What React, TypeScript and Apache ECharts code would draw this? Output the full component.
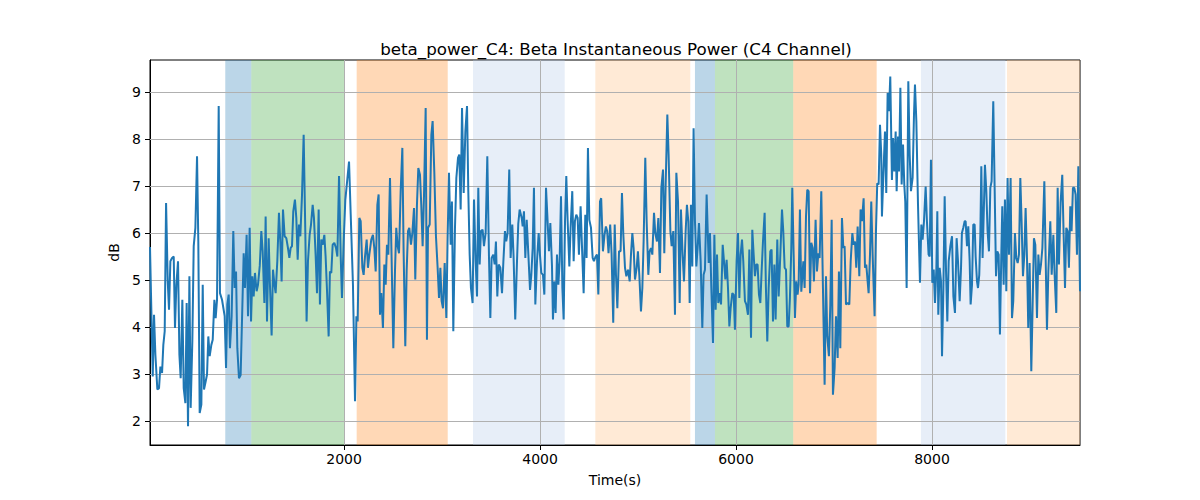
import { useEffect, useRef } from 'react'
import * as echarts from 'echarts'

// beta power samples: [time (s), dB]
const betaPower: [number, number][] = [
  [20, 5.7], [48, 2.95], [61, 4.26], [75, 3.41], [95, 2.67], [112, 2.7], [126, 3.16], [143, 3.02], [156, 3.62], [170, 3.91],
  [184, 6.64], [201, 4.97], [214, 4.37], [228, 5.4], [245, 5.47], [262, 5.5], [275, 3.98], [289, 4.9], [306, 5.4], [320, 3.41],
  [333, 2.91], [350, 4.58], [364, 2.7], [381, 2.38], [394, 4.51], [408, 1.89], [422, 5.08], [435, 2.28], [452, 3.7], [466, 5.72],
  [483, 6.11], [500, 7.63], [513, 5.82], [527, 2.17], [544, 2.35], [558, 4.9], [571, 2.67], [588, 2.84], [602, 2.99], [615, 3.8],
  [629, 3.38], [646, 3.62], [660, 3.73], [677, 4.58], [690, 4.19], [704, 4.58], [721, 8.7], [734, 4.72], [755, 4.58], [782, 4.23],
  [796, 3.13], [809, 4.48], [823, 4.69], [836, 3.55], [853, 4.23], [870, 6.04], [884, 4.83], [898, 5.18], [911, 3.55], [928, 2.91],
  [945, 2.98], [976, 5.57], [989, 4.83], [1006, 5.96], [1020, 4.23], [1037, 6.11], [1051, 4.12], [1064, 5.08], [1078, 4.65], [1091, 5.15],
  [1108, 4.76], [1122, 4.9], [1140, 5.3], [1156, 6.04], [1170, 5.6], [1187, 4.51], [1200, 6.35], [1214, 4.12], [1231, 5.89], [1244, 4.9],
  [1261, 3.82], [1275, 5.22], [1290, 4.9], [1302, 4.72], [1319, 5.4], [1336, 6.43], [1350, 5.8], [1363, 4.97], [1377, 6.5], [1394, 5.93],
  [1411, 5.89], [1428, 5.68], [1442, 5.47], [1455, 5.68], [1469, 5.72], [1482, 6.46], [1499, 6.71], [1513, 6.32], [1527, 5.43], [1540, 6.18],
  [1554, 5.93], [1571, 6.8], [1588, 8.09], [1605, 6.0], [1618, 4.12], [1632, 5.4], [1649, 5.96], [1663, 6.18], [1680, 6.6], [1693, 6.32],
  [1710, 5.54], [1724, 4.72], [1741, 6.5], [1754, 4.48], [1768, 5.86], [1782, 5.75], [1799, 5.96], [1812, 5.5], [1826, 4.79], [1843, 3.8],
  [1856, 5.18], [1870, 5.15], [1884, 5.75], [1901, 5.79], [1918, 5.68], [1932, 5.5], [1949, 7.21], [1966, 5.5], [1979, 4.62], [1996, 5.8],
  [2013, 6.7], [2051, 7.52], [2068, 6.4], [2091, 4.9], [2112, 2.42], [2126, 4.23], [2139, 4.12], [2156, 6.32], [2170, 6.25], [2187, 5.26],
  [2200, 5.11], [2214, 5.5], [2231, 5.86], [2244, 5.26], [2258, 5.54], [2278, 5.86], [2295, 5.96], [2309, 5.68], [2323, 5.18], [2340, 6.6],
  [2353, 6.82], [2367, 4.26], [2380, 4.72], [2397, 3.98], [2411, 5.33], [2425, 4.9], [2438, 5.75], [2452, 5.54], [2469, 7.17], [2486, 5.4],
  [2503, 3.55], [2520, 5.2], [2533, 6.11], [2547, 5.72], [2561, 5.57], [2578, 6.9], [2595, 7.81], [2608, 5.6], [2625, 3.59], [2639, 5.2],
  [2653, 6.04], [2666, 6.11], [2683, 5.75], [2697, 6.0], [2714, 6.53], [2727, 5.01], [2744, 6.6], [2758, 7.38], [2775, 7.24], [2788, 6.6],
  [2802, 5.72], [2816, 6.8], [2833, 8.66], [2846, 3.73], [2857, 6.11], [2874, 6.18], [2891, 8.09], [2904, 8.38], [2921, 7.31], [2938, 5.93],
  [2955, 5.26], [2969, 4.62], [2983, 5.26], [2996, 4.55], [3010, 4.4], [3027, 5.36], [3044, 4.19], [3057, 5.9], [3071, 7.28], [3088, 5.75],
  [3101, 6.67], [3115, 3.91], [3132, 6.1], [3146, 7.17], [3163, 7.6], [3176, 7.67], [3190, 6.5], [3204, 8.66], [3221, 6.85], [3238, 8.16],
  [3255, 8.7], [3268, 6.9], [3282, 5.54], [3295, 4.83], [3312, 4.51], [3326, 6.71], [3343, 5.4], [3357, 4.65], [3370, 6.96], [3384, 5.33],
  [3397, 6.04], [3414, 6.07], [3428, 5.72], [3445, 6.0], [3462, 7.63], [3479, 5.5], [3493, 4.19], [3506, 5.47], [3523, 5.54], [3537, 5.33],
  [3550, 5.82], [3564, 4.65], [3578, 5.33], [3595, 5.26], [3612, 4.72], [3626, 5.4], [3642, 6.04], [3655, 5.82], [3669, 6.0], [3686, 7.35],
  [3700, 5.47], [3717, 6.18], [3730, 5.5], [3747, 4.16], [3765, 5.4], [3778, 6.2], [3792, 6.5], [3813, 6.32], [3823, 6.14], [3836, 6.46],
  [3850, 5.47], [3864, 6.28], [3881, 5.54], [3898, 4.79], [3911, 5.11], [3925, 5.68], [3938, 6.96], [3952, 4.48], [3969, 5.4], [3986, 6.0],
  [3999, 5.54], [4013, 5.15], [4030, 5.11], [4044, 4.69], [4061, 6.96], [4074, 6.4], [4091, 5.61], [4105, 6.21], [4122, 5.3], [4132, 4.16],
  [4145, 4.97], [4159, 4.3], [4173, 5.54], [4187, 4.9], [4200, 5.4], [4214, 6.78], [4228, 4.83], [4241, 4.16], [4255, 6.25], [4268, 7.21],
  [4282, 6.25], [4299, 5.29], [4312, 6.11], [4329, 6.89], [4343, 5.4], [4356, 6.25], [4370, 6.39], [4384, 6.32], [4397, 5.54], [4414, 6.57],
  [4431, 5.54], [4445, 4.72], [4462, 6.39], [4475, 5.47], [4489, 7.81], [4503, 6.28], [4520, 6.11], [4537, 5.47], [4550, 5.4], [4567, 5.5],
  [4581, 5.54], [4595, 4.69], [4612, 6.67], [4624, 6.74], [4642, 5.61], [4658, 5.96], [4672, 6.14], [4685, 6.04], [4699, 5.57], [4716, 6.18],
  [4730, 5.57], [4747, 4.09], [4762, 6.18], [4775, 5.11], [4789, 4.4], [4806, 5.61], [4822, 5.61], [4836, 6.85], [4850, 5.96], [4867, 5.26],
  [4881, 5.08], [4898, 5.22], [4915, 4.97], [4928, 5.54], [4942, 6.0], [4955, 5.68], [4969, 5.01], [4986, 5.26], [4999, 5.61], [5013, 5.11],
  [5030, 4.33], [5044, 4.83], [5057, 5.82], [5074, 7.6], [5088, 6.25], [5105, 5.11], [5118, 5.61], [5132, 5.68], [5146, 5.54], [5163, 6.43],
  [5176, 6.0], [5193, 5.82], [5207, 6.32], [5224, 5.15], [5238, 6.96], [5255, 7.35], [5268, 5.57], [5282, 7.03], [5299, 8.52], [5312, 7.67],
  [5330, 6.04], [5343, 5.72], [5360, 6.04], [5377, 4.26], [5391, 7.28], [5408, 6.67], [5425, 4.51], [5438, 6.5], [5455, 5.54], [5469, 4.97],
  [5486, 6.04], [5499, 6.6], [5513, 6.25], [5527, 4.51], [5540, 6.6], [5554, 5.29], [5567, 8.23], [5581, 6.25], [5595, 5.29], [5608, 5.68],
  [5622, 6.21], [5639, 5.4], [5656, 3.98], [5669, 5.11], [5683, 5.22], [5700, 6.82], [5721, 5.36], [5734, 6.0], [5748, 4.83], [5765, 3.66],
  [5779, 5.96], [5792, 4.37], [5806, 5.54], [5819, 4.51], [5833, 4.72], [5847, 4.48], [5864, 5.75], [5877, 5.4], [5891, 5.01], [5904, 5.43],
  [5918, 4.83], [5932, 4.01], [5945, 4.4], [5962, 4.72], [5976, 4.69], [5989, 3.94], [6006, 5.4], [6020, 6.0], [6034, 4.62], [6047, 5.54],
  [6061, 5.86], [6074, 5.4], [6091, 4.55], [6105, 4.48], [6122, 4.26], [6136, 5.65], [6153, 3.77], [6166, 6.07], [6180, 5.54], [6193, 5.08],
  [6207, 5.33], [6220, 5.33], [6234, 4.69], [6248, 4.51], [6261, 5.18], [6275, 5.82], [6292, 6.43], [6305, 4.83], [6319, 3.69], [6333, 4.83],
  [6350, 5.61], [6363, 5.65], [6377, 4.12], [6391, 5.33], [6404, 4.16], [6421, 5.86], [6435, 4.65], [6452, 5.54], [6469, 6.5], [6482, 6.04],
  [6496, 5.26], [6510, 5.22], [6523, 4.01], [6537, 4.01], [6550, 4.62], [6564, 5.68], [6574, 6.96], [6588, 5.54], [6601, 4.19], [6615, 4.97],
  [6628, 4.69], [6639, 4.9], [6652, 6.5], [6666, 4.75], [6687, 5.4], [6700, 4.83], [6714, 6.35], [6727, 6.92], [6741, 6.89], [6755, 4.72],
  [6768, 5.79], [6782, 5.68], [6795, 4.97], [6812, 6.28], [6826, 5.18], [6840, 5.57], [6853, 5.47], [6870, 6.89], [6887, 4.83], [6904, 2.77],
  [6918, 5.08], [6931, 3.8], [6948, 3.38], [6962, 4.48], [6976, 6.28], [6989, 2.56], [7006, 3.13], [7020, 4.23], [7037, 3.34], [7050, 5.18],
  [7064, 3.55], [7081, 6.32], [7095, 5.68], [7108, 5.72], [7122, 4.48], [7139, 4.51], [7156, 4.48], [7170, 5.4], [7187, 6.0], [7200, 5.75],
  [7214, 5.82], [7227, 5.26], [7241, 6.14], [7258, 5.08], [7271, 6.5], [7285, 6.25], [7302, 6.74], [7316, 5.26], [7329, 5.33], [7343, 4.97],
  [7353, 4.72], [7367, 5.54], [7380, 6.67], [7394, 5.54], [7414, 4.23], [7428, 6.04], [7441, 7.06], [7455, 7.03], [7469, 8.3], [7482, 7.67],
  [7489, 6.35], [7506, 7.38], [7520, 8.16], [7533, 6.85], [7547, 8.98], [7561, 8.59], [7574, 9.33], [7591, 7.13], [7602, 8.02], [7615, 7.31],
  [7629, 8.16], [7639, 6.89], [7653, 8.05], [7663, 7.31], [7677, 9.09], [7690, 7.03], [7704, 7.88], [7717, 7.03], [7727, 6.67], [7741, 4.83],
  [7758, 9.23], [7772, 7.67], [7785, 6.89], [7802, 7.17], [7816, 8.52], [7826, 9.16], [7840, 8.38], [7857, 6.6], [7877, 4.94], [7891, 6.18],
  [7904, 5.86], [7918, 6.25], [7935, 6.99], [7948, 6.25], [7965, 5.54], [7976, 5.5], [7989, 7.56], [8003, 4.94], [8017, 5.22], [8030, 4.51],
  [8044, 5.22], [8054, 6.46], [8064, 4.26], [8078, 5.26], [8092, 4.97], [8102, 3.38], [8116, 4.83], [8129, 6.78], [8143, 5.18], [8156, 4.12],
  [8170, 5.4], [8187, 5.72], [8204, 5.93], [8218, 4.65], [8234, 4.3], [8251, 5.89], [8265, 5.4], [8282, 4.55], [8296, 5.26], [8305, 6.0],
  [8319, 6.11], [8333, 6.25], [8343, 6.25], [8357, 5.72], [8370, 6.14], [8384, 5.4], [8394, 4.48], [8408, 4.9], [8421, 6.18], [8435, 6.18],
  [8445, 5.5], [8459, 4.97], [8469, 4.83], [8482, 5.11], [8493, 5.96], [8503, 7.42], [8516, 5.47], [8530, 6.6], [8540, 7.45], [8554, 6.89],
  [8567, 6.04], [8581, 5.61], [8595, 6.96], [8608, 7.1], [8625, 8.8], [8639, 6.96], [8653, 5.08], [8666, 5.61], [8680, 5.54], [8693, 3.84],
  [8707, 5.54], [8717, 6.57], [8731, 4.9], [8744, 6.71], [8758, 4.76], [8771, 7.17], [8785, 5.54], [8802, 7.17], [8816, 4.19], [8829, 4.55],
  [8846, 6.0], [8860, 5.47], [8874, 5.36], [8887, 5.54], [8901, 7.17], [8914, 6.25], [8928, 5.08], [8942, 5.54], [8955, 6.53], [8969, 5.47],
  [8982, 3.98], [8996, 5.36], [9013, 3.06], [9026, 4.4], [9040, 5.89], [9054, 5.75], [9071, 4.19], [9085, 5.54], [9098, 5.11], [9112, 5.33],
  [9126, 5.68], [9146, 7.1], [9160, 5.4], [9173, 3.94], [9187, 5.18], [9207, 6.25], [9221, 5.11], [9238, 5.96], [9251, 5.11], [9268, 4.3],
  [9282, 6.96], [9295, 5.33], [9312, 6.64], [9329, 7.24], [9343, 5.96], [9357, 4.83], [9370, 6.11], [9384, 6.04], [9397, 5.26], [9411, 6.57],
  [9424, 6.04], [9438, 6.96], [9452, 6.96], [9465, 6.82], [9479, 5.54], [9493, 7.42], [9510, 4.76],
]

// shaded segments: [start, end, colour]
const spans: [number, number, string][] = [
  [788, 1054, 'rgba(31,119,180,0.3)'],
  [1054, 2002, 'rgba(44,160,44,0.3)'],
  [2129, 3058, 'rgba(255,127,14,0.3)'],
  [3316, 4252, 'rgba(174,199,232,0.3)'],
  [4564, 5533, 'rgba(255,187,120,0.3)'],
  [5581, 5785, 'rgba(31,119,180,0.3)'],
  [5785, 6584, 'rgba(44,160,44,0.3)'],
  [6584, 7435, 'rgba(255,127,14,0.3)'],
  [7887, 8748, 'rgba(174,199,232,0.3)'],
  [8765, 9510, 'rgba(255,187,120,0.3)'],
]

const xTicks = [2000, 4000, 6000, 8000]
const yTicks = [2, 3, 4, 5, 6, 7, 8, 9]
const xRange = [20, 9510]
const yRange = [1.49, 9.68]

const font = 'DejaVu Sans'

export default function App() {
  const chartRef = useRef<HTMLDivElement>(null)

  useEffect(() => {
    if (!chartRef.current) return
    const chart = echarts.init(chartRef.current, null, { renderer: 'svg' })

    const option: any = {
      animation: false,
      backgroundColor: '#fff',
      title: {
        text: 'beta_power_C4: Beta Instantaneous Power (C4 Channel)',
        left: 611,
        top: 35,
        textAlign: 'center',
        textStyle: { fontFamily: font, fontSize: 16.7, fontWeight: 'normal', color: '#000' },
      },
      grid: {
        left: 150,
        right: 120,
        top: 60,
        bottom: 55,
        show: true,
        borderColor: '#000',
        borderWidth: 1,
        backgroundColor: 'transparent',
      },
      xAxis: {
        type: 'value',
        min: xRange[0],
        max: xRange[1],
        name: 'Time(s)',
        nameLocation: 'middle',
        nameGap: 28,
        nameTextStyle: { fontFamily: font, fontSize: 14, color: '#000' },
        axisLine: { show: true, lineStyle: { color: '#000', width: 1 } },
        axisTick: { show: true, customValues: xTicks, length: 5, lineStyle: { color: '#000' } },
        axisLabel: {
          customValues: xTicks,
          margin: 7,
          fontFamily: font,
          fontSize: 14,
          color: '#000',
          formatter: (v: number) => String(v),
        },
        splitLine: { show: false },
      },
      yAxis: {
        type: 'value',
        min: yRange[0],
        max: yRange[1],
        name: 'dB',
        nameLocation: 'middle',
        nameGap: 24,
        nameTextStyle: { fontFamily: font, fontSize: 14, color: '#000' },
        axisLine: { show: true, lineStyle: { color: '#000', width: 1 } },
        axisTick: { show: true, customValues: yTicks, length: 5, lineStyle: { color: '#000' } },
        axisLabel: {
          customValues: yTicks,
          margin: 9,
          fontFamily: font,
          fontSize: 14,
          color: '#000',
          formatter: (v: number) => String(v),
        },
        splitLine: { show: false },
      },
      series: [
        {
          type: 'line',
          data: betaPower,
          showSymbol: false,
          z: 3,
          lineStyle: { color: '#1f77b4', width: 2 },
          itemStyle: { color: '#1f77b4' },
          markArea: {
            silent: true,
            z: 1,
            data: spans.map(([a, b, c]) => [
              { xAxis: a, itemStyle: { color: c } },
              { xAxis: b },
            ]),
          },
          markLine: {
            silent: true,
            z: 2,
            symbol: ['none', 'none'],
            label: { show: false },
            lineStyle: { color: '#b0b0b0', type: 'solid', width: 1 },
            data: [
              ...xTicks.map((v) => ({ xAxis: v })),
              ...yTicks.map((v) => ({ yAxis: v })),
            ],
          },
        },
      ],
    }

    chart.setOption(option)

    return () => {
      chart.dispose()
    }
  }, [])

  return (
    <div
      ref={chartRef}
      style={{ position: 'absolute', left: 0, top: 0, width: '1200px', height: '500px' }}
    />
  )
}
